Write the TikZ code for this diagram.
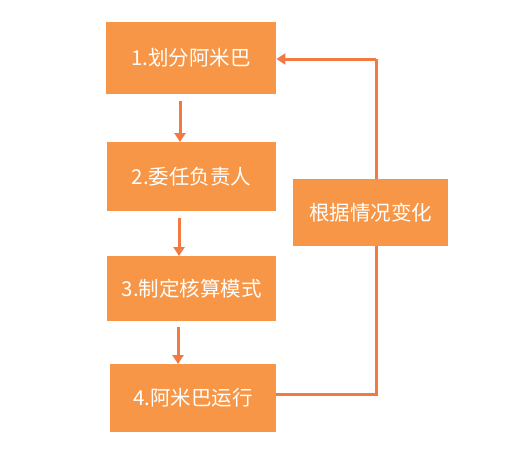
\documentclass[tikz,border=0pt]{standalone}
\usepackage{fontspec}
\newfontfamily\cjk{Noto Sans CJK SC}
\usetikzlibrary{arrows.meta}
\definecolor{boxfill}{HTML}{F79646}
\definecolor{linecol}{HTML}{F27A42}
\begin{document}
\begin{tikzpicture}[x=1pt,y=-1pt,
  stepbox/.style={fill=boxfill,draw=none,text=white,font=\cjk\fontsize{20.5}{23}\selectfont,inner sep=0pt,anchor=north west},
  flow/.style={draw=linecol,line width=3pt,-{Triangle[length=9pt,width=11pt]}},
  loop/.style={draw=linecol,line width=3pt}]
\useasboundingbox (0,0) rectangle (509,450);
\node[stepbox,minimum width=170pt,minimum height=72pt] (b1) at (106,22) {1.划分阿米巴};
\node[stepbox,minimum width=169pt,minimum height=69pt] (b2) at (107,142) {2.委任负责人};
\node[stepbox,minimum width=169pt,minimum height=65pt] (b3) at (107,256) {3.制定核算模式};
\node[stepbox,minimum width=166pt,minimum height=68pt] (b4) at (110,364) {4.阿米巴运行};
\coordinate (c1) at (376,394);
\coordinate (c2) at (376,59);
\coordinate (t1) at (180,101);
\coordinate (t2) at (179,218);
\coordinate (t3) at (178,327);
\draw[loop] (b4.east |- c1) -- (c1) -- (c2);
\draw[flow] (c2) -- (b1.east |- c2);
\node[stepbox,minimum width=155pt,minimum height=67pt] (s) at (293,179) {根据情况变化};
\draw[flow] (t1) -- (t1 |- b2.north);
\draw[flow] (t2) -- (t2 |- b3.north);
\draw[flow] (t3) -- (t3 |- b4.north);
\end{tikzpicture}
\end{document}
